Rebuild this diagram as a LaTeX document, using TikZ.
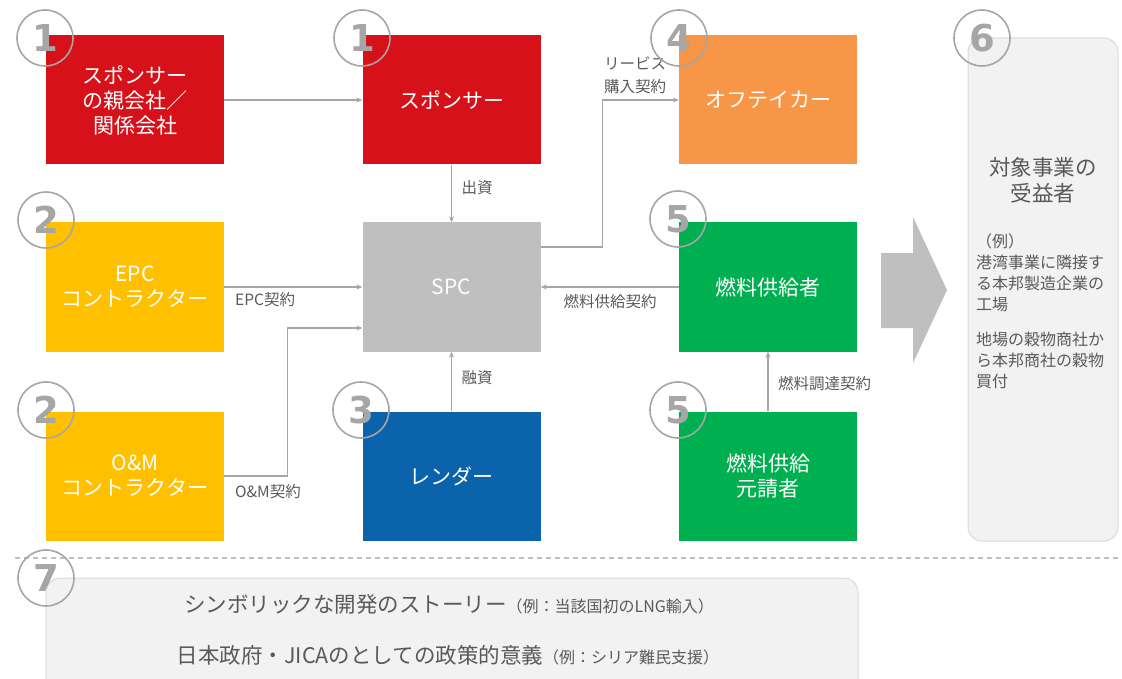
\documentclass[tikz,border=0pt]{standalone}
\usepackage{fontspec}
\setmainfont{Noto Sans CJK JP}
\newfontfamily\numfont{DejaVu Sans}
\usetikzlibrary{arrows.meta}
\definecolor{boxred}{RGB}{215,17,26}
\definecolor{boxorange}{RGB}{247,150,70}
\definecolor{boxyellow}{RGB}{255,192,0}
\definecolor{boxgray}{RGB}{191,191,191}
\definecolor{boxgreen}{RGB}{0,176,80}
\definecolor{boxblue}{RGB}{11,99,172}
\definecolor{linegray}{RGB}{166,166,166}
\definecolor{numgray}{RGB}{166,166,166}
\definecolor{labelgray}{RGB}{89,89,89}
\definecolor{panelgray}{RGB}{242,242,242}
\definecolor{panelline}{RGB}{217,217,217}
\begin{document}
\begin{tikzpicture}[x=1pt,y=-1pt,
  box/.style={rectangle, minimum width=178pt, minimum height=129pt, inner sep=0pt, text=white, align=center, font=\fontsize{21}{25}\selectfont},
  conn/.style={draw=linegray, line width=1.3pt, -{Stealth[length=6pt,width=5pt]}},
  lbl/.style={text=labelgray, inner sep=0pt, align=center, font=\fontsize{15.5}{23}\selectfont},
  num/.style={circle, draw=numgray, line width=1.6pt, minimum size=56pt, inner sep=0pt, text=numgray, font=\numfont\bfseries\fontsize{37}{37}\selectfont},
  panel/.style={rectangle, fill=panelgray, draw=panelline, line width=1pt, rounded corners=14pt, inner sep=0pt},
  paneltext/.style={text=labelgray, inner sep=0pt}]
\useasboundingbox (0,0) rectangle (1122,679);
\node [box, fill=boxred] (prnt) at (135,100) {スポンサー\\の親会社／\\関係会社};
\node [box, fill=boxred] (spons) at (451.5,100) {スポンサー};
\node [box, fill=boxorange] (offt) at (768,100) {オフテイカー};
\node [box, fill=boxyellow] (epc) at (135,287) {EPC\\コントラクター};
\node [box, fill=boxgray] (spc) at (451.5,287) {SPC};
\node [box, fill=boxgreen] (fuel) at (768,287) {燃料供給者};
\node [box, fill=boxyellow] (om) at (135,476) {O\&M\\コントラクター};
\node [box, fill=boxblue] (lend) at (451.5,476) {レンダー};
\node [box, fill=boxgreen] (fuelc) at (768,476) {燃料供給\\元請者};
\draw [conn] (prnt) -- (spons);
\draw [conn] (spons) -- (spc);
\draw [conn] (epc) -- (spc);
\draw [conn] (fuel) -- (spc);
\draw [conn] (lend) -- (spc);
\draw [conn] (fuelc) -- (fuel);
\draw [conn] ([yshift=40pt]spc.east) -- ++(62,0) |- (offt.west);
\draw [conn] (om.east) -- ++(63,0) |- ([yshift=-41pt]spc.west);
\node [lbl] (lshusshi) at (477,188) {出資};
\node [lbl] (lyushi) at (477,378) {融資};
\node [lbl] (lservice) at (635,75) {リービス\\購入契約};
\node [lbl, anchor=west] (lepc) at (235,300) {EPC契約};
\node [lbl, anchor=west] (lom) at (235,492) {O\&M契約};
\node [lbl] (lfuel) at (610,302) {燃料供給契約};
\node [lbl, anchor=west] (lproc) at (778,384) {燃料調達契約};
\fill [boxgray] (881,253) -- (913,253) -- (913,217) -- (947,290) -- (913,363) -- (913,328) -- (881,328) -- cycle;
\node [panel, minimum width=150pt, minimum height=503pt] (benef) at (1043,289.5) {};
\node [paneltext, align=center, font=\fontsize{21.5}{26}\selectfont] (beneft) at (1043,180) {対象事業の\\受益者};
\node [paneltext, anchor=north west, align=left, font=\fontsize{16}{21}\selectfont] (benefx) at (976,234) {（例）\\港湾事業に隣接す\\る本邦製造企業の\\工場\\[14pt]地場の穀物商社か\\ら本邦商社の穀物\\買付};
\draw [draw=boxgray, line width=1.8pt, dash pattern=on 5pt off 4pt] (15,558) -- (1118,558);
\node [panel, minimum width=812pt, minimum height=130pt] (story) at (452,643) {};
\node [paneltext, font=\fontsize{21.5}{24}\selectfont] (story1) at (449,604) {シンボリックな開発のストーリー{\fontsize{16}{18}\selectfont（例：当該国初のLNG輸入）}};
\node [paneltext, font=\fontsize{21.5}{24}\selectfont] (story2) at (448,655) {日本政府・JICAのとしての政策的意義{\fontsize{16}{18}\selectfont（例：シリア難民支援）}};
\node [num] (n1a) at (45,38) {1};
\node [num] (n1b) at (362,38) {1};
\node [num] (n4) at (679,38) {4};
\node [num] (n6) at (982,38) {6};
\node [num] (n2a) at (46,220) {2};
\node [num] (n5a) at (678,219) {5};
\node [num] (n2b) at (46,410) {2};
\node [num] (n3) at (361,410) {3};
\node [num] (n5b) at (678,410) {5};
\node [num] (n7) at (46,578) {7};
\end{tikzpicture}
\end{document}
